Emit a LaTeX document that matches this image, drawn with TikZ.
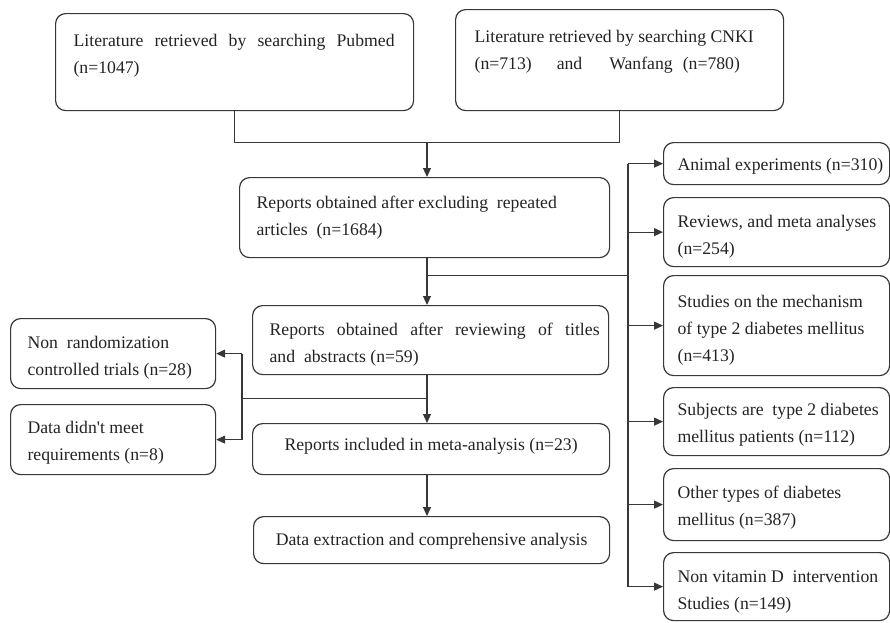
\documentclass[tikz,border=0pt]{standalone}
\usepackage{fontspec}
\setmainfont{Liberation Serif}
\usetikzlibrary{arrows.meta}
\definecolor{lineGR}{RGB}{55,55,55}
\definecolor{textGR}{RGB}{35,35,35}

\begin{document}
\begin{tikzpicture}[x=1pt,y=-1pt,
    flowbox/.style={draw=lineGR,line width=1.2pt,rounded corners=10pt,anchor=north west,
      align=flush left,inner ysep=0pt,inner xsep=17pt,text=textGR,
      font=\fontsize{17.7}{27}\selectfont},
    boxdim/.style n args={3}{text width=#1,text height=#2,text depth=#3},
    sidebox/.style={flowbox,inner xsep=14pt},
    link/.style={draw=lineGR,line width=1.2pt},
    arr/.style={link,-{Triangle[length=9pt,width=8pt]}}]
  \useasboundingbox (0,0) rectangle (890,622);

  % main column
  \node[flowbox,boxdim={322pt}{33pt}{64pt},inner xsep=18pt] (pubmed) at (55,13)
    {\makebox[321pt][s]{Literature retrieved by searching Pubmed}\\(n=1047)};
  \node[flowbox,boxdim={290pt}{33pt}{68pt},inner xsep=19pt] (cnki) at (455,9)
    {Literature retrieved by searching CNKI\\(n=713)\hspace{25pt}and\hspace{27pt}Wanfang\hspace{10pt}(n=780)};
  \node[flowbox,boxdim={336pt}{31pt}{49pt}] (dedup) at (239,177)
    {Reports obtained after excluding\ \ repeated\\articles\ \ (n=1684)};
  \node[flowbox,boxdim={322pt}{30pt}{39pt}] (screen) at (252,305)
    {\makebox[330pt][s]{Reports obtained after reviewing of titles}\\and\ \ abstracts (n=59)};
  \node[flowbox,align=flush center,boxdim={323pt}{27pt}{24pt}] (included) at (252,423)
    {Reports included in meta-analysis (n=23)};
  \node[flowbox,align=flush center,boxdim={322pt}{29pt}{18pt}] (extract) at (253,516)
    {Data extraction and comprehensive analysis};

  % left exclusions
  \node[flowbox,boxdim={171pt}{30pt}{40pt}] (nonrct) at (10,318)
    {Non\ \ randomization\\controlled trials (n=28)};
  \node[flowbox,boxdim={171pt}{29pt}{41pt}] (baddata) at (10,404)
    {Data didn\textquotesingle t meet\\requirements (n=8)};

  % right exclusions
  \node[sidebox,boxdim={198pt}{28pt}{14pt}] (animal) at (663,142)
    {\mbox{Animal experiments (n=310)}};
  \node[sidebox,boxdim={198pt}{30pt}{39pt}] (reviews) at (663,197)
    {\mbox{Reviews, and meta analyses}\\(n=254)};
  \node[sidebox,boxdim={198pt}{32pt}{68pt}] (mechanism) at (663,275)
    {Studies on the mechanism\\of type 2 diabetes mellitus\\(n=413)};
  \node[sidebox,boxdim={198pt}{28pt}{40pt}] (t2dm) at (663,387)
    {\mbox{Subjects are\ \ type 2 diabetes}\\mellitus patients (n=112)};
  \node[sidebox,boxdim={198pt}{30pt}{42pt}] (othertype) at (663,468)
    {Other types of diabetes\\mellitus (n=387)};
  \node[sidebox,boxdim={198pt}{30pt}{38pt}] (novitd) at (663,552)
    {\mbox{Non vitamin D\ \ intervention}\\Studies (n=149)};

  % connectors
  \coordinate (spine) at (427,0);
  \coordinate (bus) at (628,0);
  \coordinate (sidebus) at (242,0);

  \draw[link] (pubmed.south) -- ++(0,31) coordinate (merge) -| (cnki.south);
  \draw[arr] (spine |- merge) -- (spine |- dedup.north);
  \draw[arr] (spine |- dedup.south) -- (spine |- screen.north);
  \path (spine |- dedup.south) ++(0,17) coordinate (fork1);
  \draw[link] (fork1) -- (bus |- fork1);
  \draw[link] (bus |- animal.west) -- (bus |- novitd.west);
  \foreach \n in {animal,reviews,mechanism,t2dm,othertype,novitd}
    \draw[arr] (bus |- \n.west) -- (\n.west);

  \draw[arr] (spine |- screen.south) -- (spine |- included.north);
  \path (spine |- screen.south) ++(0,23) coordinate (fork2);
  \draw[link] (fork2) -- (sidebus |- fork2);
  \draw[link] (sidebus |- nonrct.east) -- (sidebus |- baddata.east);
  \foreach \n in {nonrct,baddata}
    \draw[arr] (sidebus |- \n.east) -- (\n.east);

  \draw[arr] (spine |- included.south) -- (spine |- extract.north);
\end{tikzpicture}
\end{document}
